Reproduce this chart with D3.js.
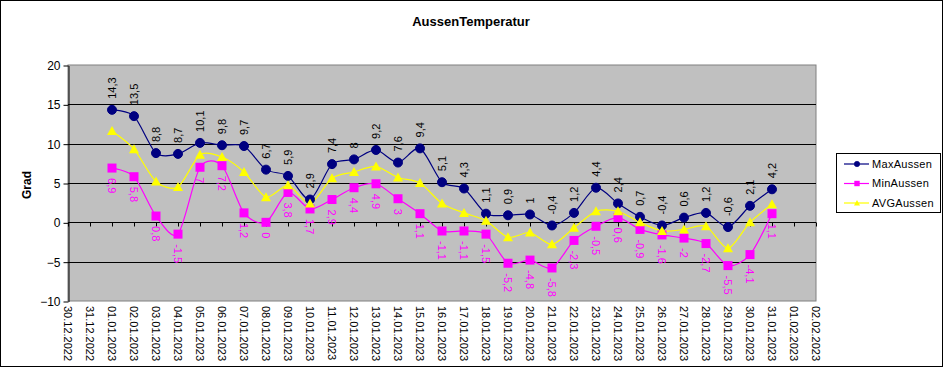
<!DOCTYPE html>
<html>
<head>
<meta charset="utf-8">
<script src="https://cdn.jsdelivr.net/npm/d3@7"></script>
<style>
  body { margin: 0; background: #fff; }
  svg { display: block; font-family: Arial, "Liberation Sans", sans-serif; }
</style>
</head>
<body>
<svg width="943" height="368"></svg>
<script>
var dates = ["30.12.2022", "31.12.2022", "01.01.2023", "02.01.2023", "03.01.2023", "04.01.2023",
    "05.01.2023", "06.01.2023", "07.01.2023", "08.01.2023", "09.01.2023", "10.01.2023",
    "11.01.2023", "12.01.2023", "13.01.2023", "14.01.2023", "15.01.2023", "16.01.2023",
    "17.01.2023", "18.01.2023", "19.01.2023", "20.01.2023", "21.01.2023", "22.01.2023",
    "23.01.2023", "24.01.2023", "25.01.2023", "26.01.2023", "27.01.2023", "28.01.2023",
    "29.01.2023", "30.01.2023", "31.01.2023", "01.02.2023", "02.02.2023"];

// values from 01.01.2023 to 31.01.2023
var dataDates = dates.slice(2, 33);
var maxAussen = [14.3, 13.5, 8.8, 8.7, 10.1, 9.8, 9.7, 6.7, 5.9, 2.9, 7.4, 8, 9.2, 7.6, 9.4, 5.1,
    4.3, 1.1, 0.9, 1, -0.4, 1.2, 4.4, 2.4, 0.7, -0.4, 0.6, 1.2, -0.6, 2.1, 4.2];
var minAussen = [6.9, 5.8, 0.8, -1.5, 7, 7.2, 1.2, 0, 3.8, 1.7, 2.9, 4.4, 4.9, 3, 1.1, -1.1,
    -1.1, -1.5, -5.2, -4.8, -5.8, -2.3, -0.5, 0.6, -0.9, -1.6, -2, -2.7, -5.5, -4.1, 1.1];
var avgAussen = [11.6, 9.3, 5.2, 4.5, 8.6, 8.3, 6.4, 3.2, 4.7, 2.4, 5.6, 6.4, 7.1, 5.7, 5.0, 2.4,
    1.2, 0.2, -1.9, -1.3, -2.8, -0.7, 1.4, 1.4, 0, -1.1, -0.9, -0.5, -3.3, 0, 2.3];
var yTicks = [-10, -5, 0, 5, 10, 15, 20];

var series = [
    { name: "MaxAussen", values: maxAussen, color: "#000080", marker: "circle" },
    { name: "MinAussen", values: minAussen, color: "#ff00ff", marker: "square" },
    { name: "AVGAussen", values: avgAussen, color: "#ffff00", marker: "triangle" }
];

var svg = d3.select("svg");
var plot = { left: 68, right: 816, top: 65, bottom: 301 };

var x = d3.scalePoint().domain(dates).range([plot.left, plot.right]);
var y = d3.scaleLinear().domain([-10, 20]).range([plot.bottom, plot.top]);

// outer frame
svg.append("rect").attr("x", 0.5).attr("y", 0.5).attr("width", 942).attr("height", 366)
    .attr("fill", "#fff").attr("stroke", "#000");

svg.append("text").attr("x", 471).attr("y", 26).attr("text-anchor", "middle")
    .attr("font-size", 13).attr("font-weight", "bold").text("AussenTemperatur");

// plot area
svg.append("rect").attr("x", plot.left).attr("y", plot.top)
    .attr("width", plot.right - plot.left).attr("height", plot.bottom - plot.top)
    .attr("fill", "#c0c0c0").attr("stroke", "#808080");

svg.append("g").selectAll("line").data(yTicks.filter(function (d) { return d > -10 && d < 20; }))
    .join("line")
    .attr("x1", plot.left).attr("x2", plot.right)
    .attr("y1", function (d) { return Math.round(y(d)) + 0.5; })
    .attr("y2", function (d) { return Math.round(y(d)) + 0.5; })
    .attr("stroke", "#000");

// y axis
var yAxis = svg.append("g").attr("transform", "translate(" + (plot.left + 0.5) + ",0.5)")
    .call(d3.axisLeft(y).tickValues(yTicks).tickSize(5).tickSizeOuter(0));
yAxis.select(".domain").attr("stroke", "#000");
yAxis.selectAll("text").attr("font-size", 12).attr("fill", "#000")
    .attr("font-family", "Arial, 'Liberation Sans', sans-serif");

svg.append("text").attr("transform", "translate(31,185) rotate(-90)")
    .attr("text-anchor", "middle").attr("font-size", 12).attr("font-weight", "bold").text("Grad");

// x axis at zero line with ticks, labels at the bottom
var xAxis = svg.append("g").attr("transform", "translate(0," + (Math.round(y(0)) + 0.5) + ")")
    .call(d3.axisBottom(x).tickSize(4).tickSizeOuter(0).tickFormat(""));
xAxis.select(".domain").remove();
xAxis.selectAll("line").attr("stroke", "#000");

svg.append("g").selectAll("text").data(dates).join("text")
    .attr("transform", function (d) { return "translate(" + (x(d) - 0.5) + "," + (plot.bottom + 5) + ") rotate(90)"; })
    .attr("dy", "0.35em").attr("font-size", 11).text(function (d) { return d; });

// lines
var line = d3.line()
    .x(function (d, i) { return x(dataDates[i]); })
    .y(function (d) { return y(d); })
    .curve(d3.curveCardinal.tension(0.2));

function drawMarker(g, type, color) {
    if (type === "circle") {
        g.append("circle").attr("r", 4.5).attr("fill", color).attr("stroke", color);
    } else if (type === "square") {
        g.append("rect").attr("x", -4.5).attr("y", -4.5).attr("width", 9).attr("height", 9)
            .attr("fill", color);
    } else {
        g.append("path").attr("d", "M0,-5L5,4L-5,4Z").attr("fill", color);
    }
}

series.forEach(function (s) {
    svg.append("path").datum(s.values).attr("d", line)
        .attr("fill", "none").attr("stroke", s.color).attr("stroke-width", 1.2);
});

series.forEach(function (s) {
    s.values.forEach(function (v, i) {
        var g = svg.append("g").attr("transform", "translate(" + x(dataDates[i]) + "," + y(v) + ")");
        drawMarker(g, s.marker, s.color);
    });
});

function fmt(v) { return String(v).replace(".", ","); }

// data labels
svg.append("g").selectAll("text").data(maxAussen).join("text")
    .attr("transform", function (d, i) { return "translate(" + x(dataDates[i]) + "," + (y(d) - 11) + ") rotate(-90)"; })
    .attr("dy", "0.35em").attr("font-size", 11).attr("fill", "#000").text(fmt);

svg.append("g").selectAll("text").data(minAussen).join("text")
    .attr("transform", function (d, i) { return "translate(" + x(dataDates[i]) + "," + (y(d) + 10) + ") rotate(90)"; })
    .attr("dy", "0.35em").attr("font-size", 11).attr("fill", "#ff00ff").text(fmt);

// legend
var legend = svg.append("g").attr("transform", "translate(836,153)");
legend.append("rect").attr("x", 0.5).attr("y", 0.5).attr("width", 104).attr("height", 59)
    .attr("fill", "#fff").attr("stroke", "#000");
series.forEach(function (s, i) {
    var ly = 11 + i * 19.5;
    legend.append("line").attr("x1", 8).attr("x2", 33).attr("y1", ly).attr("y2", ly)
        .attr("stroke", s.color).attr("stroke-width", 1.2);
    var m = legend.append("g").attr("transform", "translate(21," + ly + ") scale(0.6)");
    drawMarker(m, s.marker, s.color);
    legend.append("text").attr("x", 36).attr("y", ly).attr("dy", "0.35em")
        .attr("font-size", 11).attr("letter-spacing", "0.3").text(s.name);
});
</script>
</body>
</html>
